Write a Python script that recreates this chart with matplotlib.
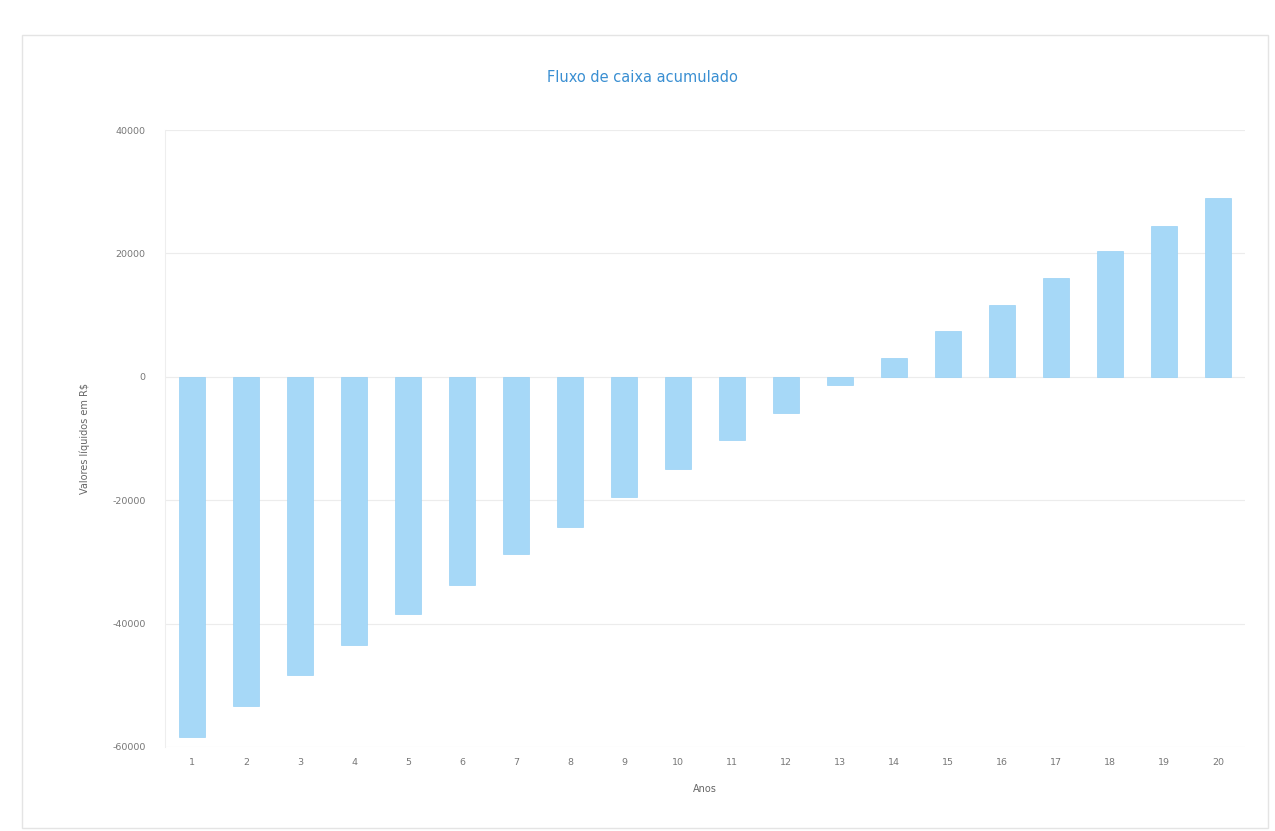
import numpy as np
import matplotlib
matplotlib.use("Agg")
import matplotlib.pyplot as plt
from matplotlib.patches import Rectangle

# Accumulated cash flow per year
anos = [str(i) for i in range(1, 21)]
fluxo_acumulado = [
    -58400, -53400, -48400, -43400, -38500, -33800, -28800, -24300, -19500, -14900,
    -10300, -5900, -1300, 3000, 7400, 11700, 16000, 20400, 24500, 29000,
]
y_ticks = [-60000, -40000, -20000, 0, 20000, 40000]

titulo = "Fluxo de caixa acumulado"
x_label = "Anos"
y_label = "Valores líquidos em R$"

bar_color = "#a6d8f7"
bar_edge = "#98d1f5"
title_color = "#3a8fd2"
tick_color = "#777777"
grid_color = "#ececec"

fig = plt.figure(figsize=(12.75, 8.31), dpi=100)
fig.patch.set_facecolor("white")

# faint card frame around the chart
W, H = 1275, 831
fig.patches.append(Rectangle((22 / W, 1 - 828 / H), (1268 - 22) / W, (828 - 35) / H,
                             transform=fig.transFigure, fill=False,
                             edgecolor="#e4e4e4", linewidth=1.0))

ax = fig.add_axes([165 / W, 1 - 747 / H, (1245 - 165) / W, (747 - 130) / H])

x = np.arange(len(anos))
ax.bar(x, fluxo_acumulado, width=0.48, color=bar_color, edgecolor=bar_edge, linewidth=0.5, zorder=3)

ax.set_xlim(-0.5, len(anos) - 0.5)
ax.set_ylim(-60000, 40000)
ax.set_yticks(y_ticks)
ax.set_yticklabels([str(v) for v in y_ticks])
ax.set_xticks(x)
ax.set_xticklabels(anos)

ax.yaxis.grid(True, color=grid_color, linewidth=0.8, zorder=0)
ax.xaxis.grid(False)
for side in ["top", "right", "bottom"]:
    ax.spines[side].set_visible(False)
ax.spines["left"].set_color("#eeeeee")

ax.tick_params(axis="both", length=0, colors=tick_color, labelsize=6.8)
ax.tick_params(axis="y", pad=14)
ax.tick_params(axis="x", pad=8)

fig.text(642 / W, 1 - 78 / H, titulo, color=title_color, fontsize=10.5, ha="center", va="center")
ax.set_xlabel(x_label, color="#666666", fontsize=7, labelpad=12)
ax.set_ylabel(y_label, color="#666666", fontsize=7, labelpad=16)

fig.savefig("out.png", dpi=100)
